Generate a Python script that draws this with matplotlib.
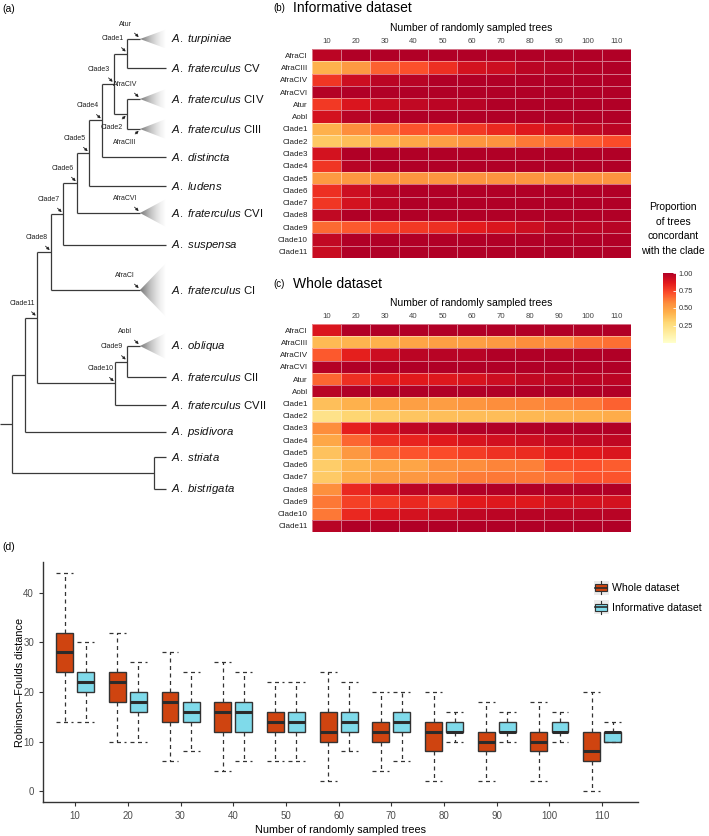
import numpy as np
import matplotlib
matplotlib.use('Agg')
import matplotlib.pyplot as plt
from matplotlib.colors import LinearSegmentedColormap, Normalize
from matplotlib.patches import Polygon, Rectangle, Patch
from matplotlib.lines import Line2D
from matplotlib.legend_handler import HandlerBase
from matplotlib.cm import ScalarMappable

plt.rcParams['font.family'] = ['Liberation Sans', 'DejaVu Sans']
plt.rcParams['mathtext.fontset'] = 'custom'
plt.rcParams['mathtext.it'] = 'Liberation Sans:italic'
plt.rcParams['mathtext.rm'] = 'Liberation Sans'

# ---------------- data ----------------
sample_sizes = [10, 20, 30, 40, 50, 60, 70, 80, 90, 100, 110]
clades = ['AfraCI', 'AfraCIII', 'AfraCIV', 'AfraCVI', 'Atur', 'Aobl',
          'Clade1', 'Clade2', 'Clade3', 'Clade4', 'Clade5', 'Clade6',
          'Clade7', 'Clade8', 'Clade9', 'Clade10', 'Clade11']

# proportion of trees concordant with the clade (rows = clades, cols = sample sizes)
prop_informative = np.array([
    [0.97, 1.00, 1.00, 1.00, 1.00, 1.00, 1.00, 1.00, 1.00, 1.00, 1.00],
    [0.43, 0.52, 0.67, 0.71, 0.80, 0.90, 0.92, 0.97, 0.98, 0.99, 1.00],
    [0.78, 0.92, 0.97, 0.98, 1.00, 1.00, 1.00, 1.00, 1.00, 1.00, 1.00],
    [0.99, 1.00, 1.00, 1.00, 1.00, 1.00, 1.00, 1.00, 1.00, 1.00, 1.00],
    [0.77, 0.88, 0.93, 0.95, 0.97, 0.98, 1.00, 1.00, 1.00, 1.00, 1.00],
    [0.90, 0.98, 1.00, 1.00, 1.00, 1.00, 1.00, 1.00, 1.00, 1.00, 1.00],
    [0.43, 0.57, 0.64, 0.70, 0.72, 0.77, 0.82, 0.87, 0.90, 0.95, 0.97],
    [0.35, 0.39, 0.42, 0.47, 0.50, 0.54, 0.55, 0.62, 0.64, 0.68, 0.72],
    [0.90, 1.00, 1.00, 1.00, 1.00, 1.00, 1.00, 1.00, 1.00, 1.00, 1.00],
    [0.78, 0.98, 1.00, 1.00, 1.00, 1.00, 1.00, 1.00, 1.00, 1.00, 1.00],
    [0.52, 0.53, 0.54, 0.54, 0.54, 0.55, 0.55, 0.54, 0.54, 0.55, 0.55],
    [0.80, 0.92, 0.98, 1.00, 1.00, 1.00, 1.00, 1.00, 1.00, 1.00, 1.00],
    [0.78, 0.90, 0.97, 1.00, 1.00, 1.00, 1.00, 1.00, 1.00, 1.00, 1.00],
    [0.95, 1.00, 1.00, 1.00, 1.00, 1.00, 1.00, 1.00, 1.00, 1.00, 1.00],
    [0.65, 0.69, 0.74, 0.77, 0.80, 0.85, 0.88, 0.92, 0.97, 0.97, 0.98],
    [0.95, 1.00, 1.00, 1.00, 1.00, 1.00, 1.00, 1.00, 1.00, 1.00, 1.00],
    [0.93, 1.00, 1.00, 1.00, 1.00, 1.00, 1.00, 1.00, 1.00, 1.00, 1.00],
])

prop_whole = np.array([
    [0.88, 1.00, 1.00, 1.00, 1.00, 1.00, 1.00, 1.00, 1.00, 1.00, 1.00],
    [0.40, 0.42, 0.43, 0.48, 0.50, 0.50, 0.52, 0.57, 0.57, 0.62, 0.64],
    [0.69, 0.84, 0.92, 0.97, 0.98, 0.98, 1.00, 1.00, 1.00, 1.00, 1.00],
    [0.99, 1.00, 1.00, 1.00, 1.00, 1.00, 1.00, 1.00, 1.00, 1.00, 1.00],
    [0.66, 0.80, 0.84, 0.86, 0.87, 0.89, 0.92, 0.95, 0.96, 0.97, 0.97],
    [0.98, 1.00, 1.00, 1.00, 1.00, 1.00, 1.00, 1.00, 1.00, 1.00, 1.00],
    [0.38, 0.43, 0.47, 0.50, 0.51, 0.54, 0.57, 0.58, 0.60, 0.62, 0.67],
    [0.22, 0.30, 0.33, 0.36, 0.38, 0.39, 0.39, 0.41, 0.42, 0.43, 0.45],
    [0.57, 0.84, 0.90, 0.96, 0.98, 1.00, 1.00, 1.00, 1.00, 1.00, 1.00],
    [0.47, 0.66, 0.80, 0.83, 0.86, 0.89, 0.91, 0.92, 0.94, 0.95, 0.96],
    [0.37, 0.53, 0.66, 0.70, 0.72, 0.76, 0.79, 0.81, 0.85, 0.86, 0.88],
    [0.33, 0.42, 0.47, 0.48, 0.56, 0.57, 0.59, 0.60, 0.70, 0.71, 0.68],
    [0.34, 0.45, 0.51, 0.53, 0.56, 0.61, 0.62, 0.62, 0.64, 0.70, 0.70],
    [0.56, 0.82, 0.91, 0.97, 0.98, 1.00, 1.00, 1.00, 1.00, 1.00, 1.00],
    [0.62, 0.75, 0.77, 0.82, 0.78, 0.86, 0.87, 0.87, 0.90, 0.90, 0.90],
    [0.62, 0.82, 0.88, 0.90, 0.93, 0.96, 0.97, 0.98, 0.98, 0.98, 0.98],
    [0.98, 1.00, 1.00, 1.00, 1.00, 1.00, 1.00, 1.00, 1.00, 1.00, 1.00],
])

# Robinson-Foulds distance boxplots (whisker low, q1, median, q3, whisker high)
whole_lo  = [14, 10, 6, 4, 6, 2, 4, 2, 2, 2, 0]
whole_q1  = [24, 18, 14, 12, 12, 10, 10, 8, 8, 8, 6]
whole_med = [28, 22, 18, 16, 14, 12, 12, 12, 10, 10, 8]
whole_q3  = [32, 24, 20, 18, 16, 16, 14, 14, 12, 12, 12]
whole_hi  = [44, 32, 28, 26, 22, 24, 20, 20, 18, 18, 20]

info_lo  = [14, 10, 8, 6, 6, 8, 6, 10, 10, 10, 10]
info_q1  = [20, 16, 14, 12, 12, 12, 12, 12, 12, 12, 10]
info_med = [22, 18, 16, 16, 14, 14, 14, 12, 12, 12, 12]
info_q3  = [24, 20, 18, 18, 16, 16, 16, 14, 14, 14, 12]
info_hi  = [30, 26, 24, 24, 22, 22, 20, 16, 16, 16, 14]

# tree: tip rows, node depths, topology
tip_rows = {'turpiniae': 39, 'CV': 68, 'CIV': 99, 'CIII': 129, 'distincta': 157,
            'ludens': 186, 'CVI': 213, 'suspensa': 245, 'CI': 290, 'obliqua': 346,
            'CII': 377, 'CVII': 405, 'psidivora': 432, 'striata': 457, 'bistrigata': 489}
tip_labels = {'turpiniae': ('A. turpiniae', ''), 'CV': ('A. fraterculus', 'CV'),
              'CIV': ('A. fraterculus', 'CIV'), 'CIII': ('A. fraterculus', 'CIII'),
              'distincta': ('A. distincta', ''), 'ludens': ('A. ludens', ''),
              'CVI': ('A. fraterculus', 'CVI'), 'suspensa': ('A. suspensa', ''),
              'CI': ('A. fraterculus', 'CI'), 'obliqua': ('A. obliqua', ''),
              'CII': ('A. fraterculus', 'CII'), 'CVII': ('A. fraterculus', 'CVII'),
              'psidivora': ('A. psidivora', ''), 'striata': ('A. striata', ''),
              'bistrigata': ('A. bistrigata', '')}
collapsed = {'turpiniae': 9.5, 'CIV': 10, 'CIII': 10, 'CVI': 14, 'CI': 27, 'obliqua': 13}
node_depth = {'root': 12, 'ingroup': 25, 'Clade11': 37, 'Clade8': 51, 'Clade7': 63,
              'Clade6': 77, 'Clade5': 89, 'Clade4': 102, 'Clade3': 114, 'Clade1': 127,
              'Clade2': 127, 'Clade10': 115, 'Clade9': 127, 'outgroup': 154}
node_children = {'root': ['ingroup', 'outgroup'], 'ingroup': ['Clade11', 'psidivora'],
                 'Clade11': ['Clade8', 'Clade10'], 'Clade8': ['Clade7', 'CI'],
                 'Clade7': ['Clade6', 'suspensa'], 'Clade6': ['Clade5', 'CVI'],
                 'Clade5': ['Clade4', 'ludens'], 'Clade4': ['Clade3', 'distincta'],
                 'Clade3': ['Clade1', 'Clade2'], 'Clade1': ['turpiniae', 'CV'],
                 'Clade2': ['CIV', 'CIII'], 'Clade10': ['Clade9', 'CVII'],
                 'Clade9': ['obliqua', 'CII'], 'outgroup': ['striata', 'bistrigata']}
clade_marks = [('Atur', 'turpiniae'), ('Clade1', 'Clade1'), ('Clade3', 'Clade3'),
               ('AfraCIV', 'CIV'), ('Clade2', 'Clade2'), ('AfraCIII', 'CIII'),
               ('Clade4', 'Clade4'), ('Clade5', 'Clade5'), ('Clade6', 'Clade6'),
               ('Clade7', 'Clade7'), ('AfraCVI', 'CVI'), ('Clade8', 'Clade8'),
               ('AfraCI', 'CI'), ('Clade11', 'Clade11'), ('Aobl', 'obliqua'),
               ('Clade9', 'Clade9'), ('Clade10', 'Clade10')]
marks_below = ['Clade2', 'AfraCIII']

# ---------------- figure ----------------
W, H = 709, 836
fig = plt.figure(figsize=(W / 100, H / 100), dpi=100)


def fx(x):
    return x / W


def fy(y):
    return 1 - y / H


# ---- (a) tree ----
ax_t = fig.add_axes([0, 0, 1, 1])
ax_t.axis('off')
line_kw = dict(color='#3a3a3a', lw=0.9, solid_capstyle='butt')
tip_end = 166
apex_x = 140


def node_y(n):
    if n in tip_rows:
        return tip_rows[n]
    return np.mean([node_y(c) for c in node_children[n]])


def child_x(c):
    if c in node_depth:
        return node_depth[c]
    return apex_x if c in collapsed else tip_end


def draw_node(n):
    x = node_depth[n]
    ys = [node_y(c) for c in node_children[n]]
    ax_t.plot([x, x], [min(ys), max(ys)], **line_kw)
    for c in node_children[n]:
        ax_t.plot([x, child_x(c)], [node_y(c)] * 2, **line_kw)
        if c in node_children:
            draw_node(c)


ax_t.plot([0, node_depth['root']], [node_y('root')] * 2, **line_kw)
draw_node('root')

grad = np.linspace(0.6, 0.0, 64).reshape(1, -1)
for tip, hh in collapsed.items():
    y = tip_rows[tip]
    tri = Polygon([(apex_x, y), (tip_end, y - hh), (tip_end, y + hh)],
                  closed=True, fc='none', ec='none')
    ax_t.add_patch(tri)
    im = ax_t.imshow(grad, cmap='Greys', vmin=0, vmax=1, aspect='auto',
                     extent=[apex_x, tip_end, y + hh, y - hh], interpolation='bilinear')
    im.set_clip_path(tri)

for tip, (sp, suf) in tip_labels.items():
    s = '$\\mathit{' + sp.replace(' ', '\\ ') + '}$'
    if suf:
        s += ' ' + suf
    ax_t.text(tip_end + 5, tip_rows[tip], s, fontsize=8.2, va='center', ha='left',
              color='#111111')

for lab, n in clade_marks:
    x = node_depth.get(n, apex_x)
    y = node_y(n)
    below = lab in marks_below
    ty = y + 1.5 if below else y - 1.5
    off = (-14, -12) if below else (-14, 13)
    ax_t.annotate(lab, xy=(x - 0.8, ty), xytext=off, textcoords='offset pixels',
                  fontsize=5, ha='center', va='center', color='#222222',
                  arrowprops=dict(arrowstyle='-|>', lw=0.6, color='#222222',
                                  mutation_scale=4, shrinkA=2.5, shrinkB=0.5))

ax_t.set_xlim(0, W)
ax_t.set_ylim(H, 0)
fig.text(fx(2), fy(9), '(a)', fontsize=7.5, va='center', ha='left')

# ---- (b), (c) heatmaps ----
cmap = LinearSegmentedColormap.from_list(
    'ylorrd8', ['#FFFFCC', '#FFEDA0', '#FED976', '#FEB24C',
                '#FD8D3C', '#FC4E2A', '#E31A1C', '#B10026'])
norm = Normalize(0, 1)


def heatmap(top, bottom, vals):
    ax = fig.add_axes([fx(312), fy(bottom), fx(631) - fx(312), (bottom - top) / H])
    ax.pcolormesh(vals, cmap=cmap, norm=norm, edgecolors=(1, 1, 1, 0.45), linewidth=0.6)
    ax.set_xlim(0, len(sample_sizes))
    ax.set_ylim(len(clades), 0)
    ax.set_xticks(np.arange(len(sample_sizes)) + 0.5)
    ax.set_xticklabels(sample_sizes, fontsize=5.6, color='#444444')
    ax.set_yticks(np.arange(len(clades)) + 0.5)
    ax.set_yticklabels(clades, fontsize=5.8, color='#222222')
    ax.xaxis.tick_top()
    ax.xaxis.set_label_position('top')
    ax.set_xlabel('Number of randomly sampled trees', fontsize=7.5, labelpad=5)
    ax.tick_params(length=0, pad=3)
    for s in ax.spines.values():
        s.set_visible(False)
    return ax


heatmap(49, 258, prop_informative)
heatmap(324, 532, prop_whole)

fig.text(fx(273), fy(8), '(b)', fontsize=7, va='center', ha='left')
fig.text(fx(293), fy(8), 'Informative dataset', fontsize=10, va='center', ha='left')
fig.text(fx(273), fy(284), '(c)', fontsize=7, va='center', ha='left')
fig.text(fx(293), fy(284), 'Whole dataset', fontsize=10, va='center', ha='left')

fig.text(fx(673), fy(229), 'Proportion\nof trees\nconcordant\nwith the clade',
         fontsize=7.5, ha='center', va='center', linespacing=1.55)
cax = fig.add_axes([fx(663), fy(343), 13 / W, 70 / H])
cb = fig.colorbar(ScalarMappable(norm=norm, cmap=cmap), cax=cax)
cb.outline.set_visible(False)
cb.set_ticks([0.25, 0.5, 0.75, 1.0])
cb.set_ticklabels(['0.25', '0.50', '0.75', '1.00'])
cax.tick_params(labelsize=5.3, length=2.5, width=0.6, color='white',
                direction='in', pad=2, labelcolor='#333333')

# ---- (d) boxplots ----
fig.text(fx(2), fy(547), '(d)', fontsize=7.5, va='center', ha='left')
axb = fig.add_axes([fx(43), fy(802), fx(638) - fx(43), 240 / H])
pos = np.arange(1, len(sample_sizes) + 1)


def stats(lo, q1, med, q3, hi):
    return [dict(whislo=a, q1=b, med=c, q3=d, whishi=e, fliers=[])
            for a, b, c, d, e in zip(lo, q1, med, q3, hi)]


col_whole = '#CF4410'
col_info = '#7FDAEA'
dash = dict(color='#333333', lw=0.9, linestyle=(0, (3.2, 2.8)))
for st, off, col in [(stats(whole_lo, whole_q1, whole_med, whole_q3, whole_hi), -0.2, col_whole),
                     (stats(info_lo, info_q1, info_med, info_q3, info_hi), 0.2, col_info)]:
    axb.bxp(st, positions=pos + off, widths=0.32, capwidths=0.32, patch_artist=True,
            showfliers=False, manage_ticks=False,
            boxprops=dict(facecolor=col, edgecolor='#333333', lw=1),
            medianprops=dict(color='#2b2b2b', lw=2.2, solid_capstyle='butt'),
            whiskerprops=dash, capprops=dash)

axb.set_xlim(0.39, 11.68)
axb.set_ylim(-2.22, 46.26)
axb.set_xticks(pos)
axb.set_xticklabels(sample_sizes)
axb.set_yticks([0, 10, 20, 30, 40])
axb.tick_params(labelsize=7, labelcolor='#4D4D4D', color='#333333', length=3, width=0.8)
for s in ['top', 'right']:
    axb.spines[s].set_visible(False)
for s in ['left', 'bottom']:
    axb.spines[s].set_color('#333333')
    axb.spines[s].set_linewidth(1)
axb.set_xlabel('Number of randomly sampled trees', fontsize=7.8, labelpad=3)
axb.set_ylabel('Robinson\u2013Foulds distance', fontsize=7.8, labelpad=-1)


class BoxKey(HandlerBase):
    def create_artists(self, legend, orig_handle, xdescent, ydescent, width, height,
                       fontsize, trans):
        x0, y0 = -xdescent, -ydescent
        bg = Rectangle((x0, y0), width, height, facecolor='#EBEBEB', edgecolor='none',
                       transform=trans)
        cx = x0 + width / 2
        wl = Line2D([cx, cx], [y0 + 0.02 * height, y0 + 0.98 * height], color='#333333',
                    lw=0.8, transform=trans)
        box = Rectangle((x0 + 0.1 * width, y0 + 0.25 * height), 0.8 * width, 0.5 * height,
                        facecolor=orig_handle.get_facecolor(), edgecolor='#333333', lw=0.8,
                        transform=trans)
        med = Line2D([x0 + 0.1 * width, x0 + 0.9 * width], [y0 + height / 2] * 2,
                     color='#2b2b2b', lw=1.2, transform=trans)
        return [bg, wl, box, med]


handles = [Patch(facecolor=col_whole), Patch(facecolor=col_info)]
fig.legend(handles, ['Whole dataset', 'Informative dataset'],
           handler_map={Patch: BoxKey()}, loc='upper left',
           bbox_to_anchor=(fx(594), fy(581)), frameon=False, fontsize=7.6,
           handlelength=1.4, handleheight=1.6, labelspacing=0.55,
           handletextpad=0.35, borderpad=0, borderaxespad=0)

fig.savefig('out.png', dpi=100)
